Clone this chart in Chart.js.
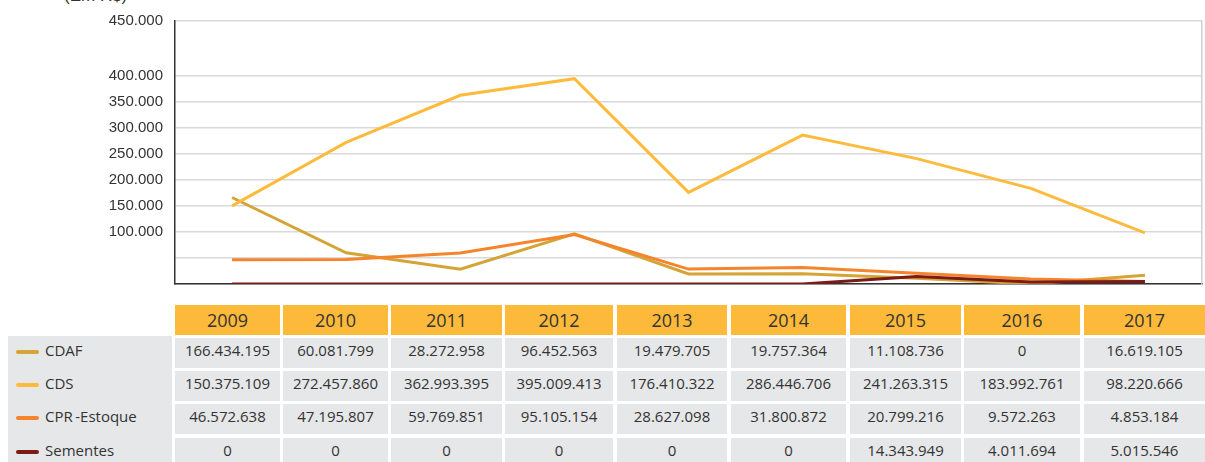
<!DOCTYPE html>
<html>
<head>
<meta charset="utf-8">
<script src="https://cdn.jsdelivr.net/npm/chart.js@4/dist/chart.umd.min.js"></script>
<style>
  body { margin: 0; background: #fff; width: 1205px; height: 462px; overflow: hidden; position: relative; }
  #wrap { position: absolute; left: 0; top: 0; width: 1205px; height: 305px; }
  #unit { position: absolute; left: 64px; top: -14px; font: 17px "Liberation Sans", Arial, sans-serif; color: #333; }
  .cell { position: absolute; box-sizing: border-box; text-align: center; font-family: "Open Sans", sans-serif; color: #333; }
  .head { background: #fdb93a; font-size: 18px; line-height: 31px; }
  .val { background: #e6e7e8; font-size: 15px; line-height: 24px; }
  .lab { position: absolute; font-family: "Open Sans", sans-serif; font-size: 15px; color: #333; line-height: 24px; }
  .mark { position: absolute; width: 23px; height: 4px; border-radius: 2px; }
</style>
</head>
<body>
<div id="unit">(Em R$)</div>
<div id="wrap"><canvas id="myLineChart" width="1205" height="305"></canvas></div>
<div id="table"></div>
<script>
let years = ['2009', '2010', '2011', '2012', '2013', '2014', '2015', '2016', '2017'];
let cdaf = [166434195, 60081799, 28272958, 96452563, 19479705, 19757364, 11108736, 0, 16619105];
let cds = [150375109, 272457860, 362993395, 395009413, 176410322, 286446706, 241263315, 183992761, 98220666];
let cprEstoque = [46572638, 47195807, 59769851, 95105154, 28627098, 31800872, 20799216, 9572263, 4853184];
let sementes = [0, 0, 0, 0, 0, 0, 14343949, 4011694, 5015546];
let seriesNames = ['CDAF', 'CDS', 'CPR-Estoque', 'Sementes'];
let seriesColors = ['#d4a437', '#fdbb3d', '#f5842c', '#7b1a17'];
let tickValues = [0, 50000, 100000, 150000, 200000, 250000, 300000, 350000, 400000, 506000];

let fmt = v => v.toLocaleString('de-DE');
let allSeries = [cdaf, cds, cprEstoque, sementes];

let ctx = document.getElementById('myLineChart').getContext('2d');
let myLineChart = new Chart(ctx, {
    type: 'line',
    data: {
        labels: years,
        datasets: allSeries.map((s, i) => ({
            label: seriesNames[i],
            data: s.map(v => v / 1000),
            borderColor: seriesColors[i],
            backgroundColor: seriesColors[i],
            borderWidth: 3,
            pointRadius: 0,
            tension: 0,
            order: i == 3 ? 0 : 4 - i,
        }))
    },
    options: {
        responsive: false,
        animation: false,
        layout: { padding: { top: 21, right: 2, bottom: 1, left: 0 } },
        plugins: { legend: { display: false }, tooltip: { enabled: false } },
        scales: {
            x: {
                offset: true,
                afterFit: s => { s.height = 1; },
                ticks: { display: false },
                grid: { display: false },
                border: { color: '#333', width: 1.5 },
            },
            y: {
                min: 0,
                max: 506000,
                afterBuildTicks: s => { s.ticks = tickValues.map(v => ({ value: v })); },
                afterFit: s => { s.width = 175; },
                ticks: {
                    color: '#333',
                    font: { family: 'Liberation Sans', size: 15 },
                    padding: 12,
                    callback: v => v == 506000 ? '450.000' : (v < 100000 ? '' : fmt(v)),
                },
                grid: { color: '#d9d9d9', lineWidth: 1.5, drawTicks: false },
                border: { color: '#333', width: 1.5 },
            },
            y2: {
                position: 'right',
                min: 0,
                max: 506000,
                afterFit: s => { s.width = 1; },
                ticks: { display: false },
                grid: { display: false },
                border: { color: '#cfcfcf', width: 1.5 },
            }
        }
    }
});

// data table below the chart
let table = document.getElementById('table');
let colX = [175, 283, 391, 505, 617, 731, 850, 964, 1084];
let colW = [105, 105, 111, 108, 110, 115, 111, 116, 121];
let rowY = [338, 371, 404, 438];
let rowH = 30;
let html = '';
years.forEach((y, j) => {
    html += `<div class="cell head" style="left:${colX[j]}px;top:305px;width:${colW[j]}px;height:30px">${y}</div>`;
});
html += `<div class="cell" style="left:8px;top:336px;width:164px;height:126px;background:#e6e7e8"></div>`;
allSeries.forEach((s, i) => {
    html += `<div class="mark" style="left:16px;top:${rowY[i] + 12}px;background:${seriesColors[i]}"></div>`;
    html += `<div class="lab" style="left:45px;top:${rowY[i]}px">${seriesNames[i].replace('-', '&thinsp;-')}</div>`;
    s.forEach((v, j) => {
        html += `<div class="cell val" style="left:${colX[j]}px;top:${rowY[i]}px;width:${colW[j]}px;height:${rowH}px">${fmt(v)}</div>`;
    });
});
table.innerHTML = html;
</script>
</body>
</html>
